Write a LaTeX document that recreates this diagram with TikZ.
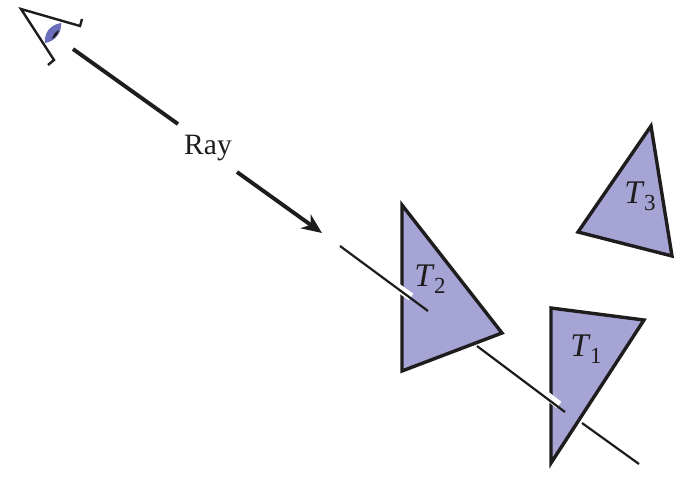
\documentclass[tikz,border=0pt]{standalone}
\usepackage{fontspec}
\setmainfont{Liberation Serif}
\usetikzlibrary{arrows.meta}
\definecolor{triblue}{HTML}{A6A4D4}
\definecolor{lensblue}{HTML}{6C70BC}
\definecolor{ink}{HTML}{1E1C1C}
\tikzset{
  x=1pt,y=-1pt,
  tri/.style={draw=ink,fill=triblue,line width=3.4pt,line join=miter},
  eyeline/.style={draw=ink,line width=2.4pt,line join=miter},
  thick ray/.style={draw=ink,line width=3.9pt},
  thin ray/.style={draw=ink,line width=2.2pt},
  halo/.style={draw=white,line width=8pt},
  lbl/.style={inner sep=0pt,text=ink,font=\fontsize{29.5}{30}\selectfont},
  mlbl/.style={inner sep=0pt,text=ink,font=\fontsize{33}{33}\selectfont},
}
\newcommand{\tlabel}[1]{\textit{T}\kern-0.02em\raisebox{-0.22em}{\fontsize{23}{23}\selectfont #1}}
\begin{document}
\begin{tikzpicture}
\useasboundingbox (0,0) rectangle (683,491);
% triangles
\draw[tri] (402,205) -- (502,333) -- (402,371) -- cycle;
\draw[tri] (551,308) -- (644,320) -- (551,463) -- cycle;
\draw[tri] (651,126) -- (672,256) -- (578,232) -- cycle;
% eye
\fill[lensblue] (61,23) .. controls (49,25) and (44,34) .. (45,43) .. controls (56,41) and (62,32) .. (61,23) -- cycle;
\fill[ink] (59,30) .. controls (55,32) and (53,35) .. (52,39) .. controls (56,37) and (58,34) .. (59,30) -- cycle;
\draw[eyeline] (82,19) -- (80,26) -- (21,9) -- (54,60) -- (48,65);
% ray coordinates
\coordinate (r1a) at (73,49);
\coordinate (r1b) at (178,124);
\coordinate (r2a) at (237,172);
\coordinate (r2b) at (322,233);
\coordinate (r3a) at (340,246);
\coordinate (r3b) at (428,311);
\coordinate (r4a) at (477,346);
\coordinate (r4b) at (565,412);
\coordinate (r5a) at (582,423);
\coordinate (r5b) at (639,464);
\coordinate (h1a) at (397,287);
\coordinate (h1b) at (411,297);
\coordinate (h2a) at (546,395);
\coordinate (h2b) at (559,405);
\draw[thick ray] (r1a) -- (r1b);
\draw[thick ray,-{Stealth[length=20pt,width=17pt,inset=6pt]}] (r2a) -- (r2b);
\draw[halo] (h1a) -- (h1b);
\draw[halo] (h2a) -- (h2b);
\draw[thin ray] (r3a) -- (r3b);
\draw[thin ray] (r4a) -- (r4b);
\draw[thin ray] (r5a) -- (r5b);
% labels
\node[lbl] (ray) at (208,148) {Ray};
\node[mlbl] (t1) at (586,349) {\tlabel{1}};
\node[mlbl] (t2) at (430,279) {\tlabel{2}};
\node[mlbl] (t3) at (640,196) {\tlabel{3}};
\end{tikzpicture}
\end{document}
